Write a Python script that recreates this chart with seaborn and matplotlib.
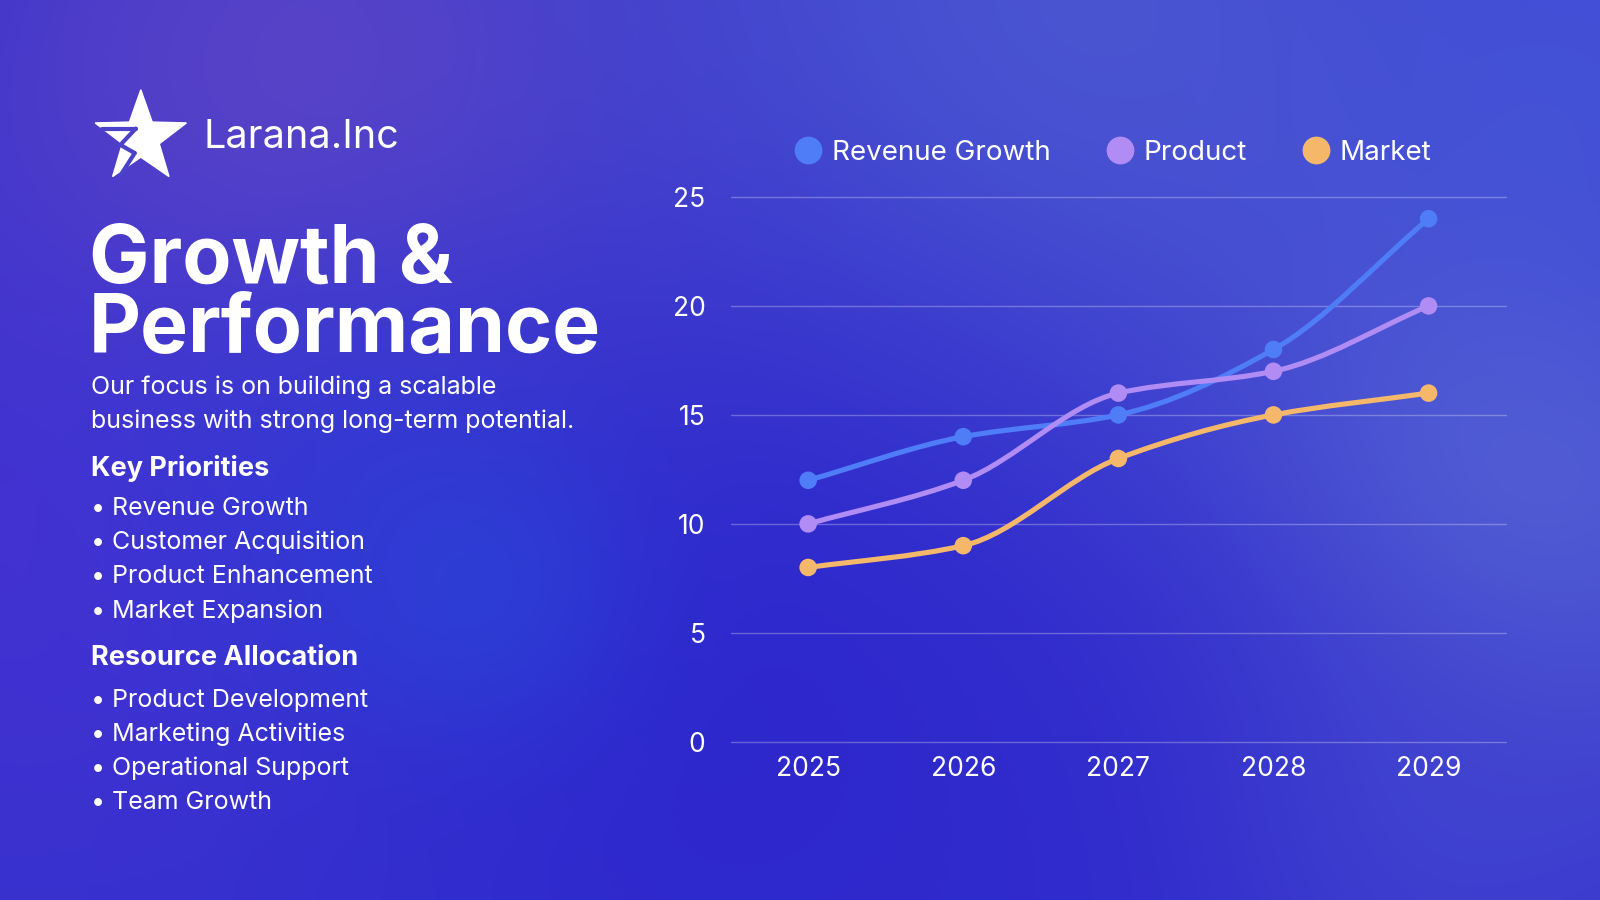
import matplotlib
matplotlib.use("Agg")
import matplotlib.pyplot as plt
import seaborn as sns
import numpy as np
import pandas as pd
from matplotlib.path import Path
from matplotlib.patches import PathPatch, Polygon
from matplotlib.lines import Line2D

# Chart data
years = ['2025', '2026', '2027', '2028', '2029']
revenue_growth = [12, 14, 15, 18, 24]
product = [10, 12, 16, 17, 20]
market = [8, 9, 13, 15, 16]
series_names = ['Revenue Growth', 'Product', 'Market']
series_colors = ['#4f7cf7', '#b08cf4', '#f5b86a']
y_ticks = [0, 5, 10, 15, 20, 25]

key_priorities = ['Revenue Growth', 'Customer Acquisition', 'Product Enhancement', 'Market Expansion']
resources = ['Product Development', 'Marketing Activities', 'Operational Support', 'Team Growth']

df = pd.DataFrame({'Year': years * 3,
                   'Value': revenue_growth + product + market,
                   'Series': sum([[s] * len(years) for s in series_names], [])})
df['pos'] = df['Year'].map({y: i for i, y in enumerate(years)})

sns.set_theme(style='white')
plt.rcParams['font.family'] = ['Inter', 'DejaVu Sans']

W, H = 1568, 882  # reference pixel space
def fx(px): return px / W
def fy(py): return 1 - py / H

fig = plt.figure(figsize=(16, 9), dpi=100)

# background gradient with soft blobs
bg = fig.add_axes([0, 0, 1, 1])
gx, gy = np.meshgrid(np.linspace(0, W, 400), np.linspace(0, H, 225))
img = np.zeros((225, 400, 3)) + np.array([0x36, 0x32, 0xce]) / 255
def blob(cx, cy, r, col, a):
    w = a * np.exp(-(((gx - cx) ** 2 + (gy - cy) ** 2) / (2 * r ** 2)))[..., None]
    return img * (1 - w) + np.array(col) / 255 * w
img = blob(300, 110, 250, (0x5c, 0x44, 0xc6), 0.95)
img = blob(1050, 30, 320, (0x4e, 0x5c, 0xd2), 0.85)
img = blob(1470, 480, 220, (0x58, 0x66, 0xd4), 0.9)
img = blob(1560, 80, 200, (0x45, 0x58, 0xda), 0.7)
img = blob(700, 700, 300, (0x2c, 0x26, 0xcc), 0.85)
img = blob(60, 560, 200, (0x4a, 0x30, 0xd4), 0.6)
img = blob(330, 480, 170, (0x2e, 0x3a, 0xd6), 0.55)
img = blob(470, 580, 100, (0x2a, 0x46, 0xd8), 0.6)
img = blob(1100, 870, 260, (0x2e, 0x28, 0xcc), 0.7)
img = blob(1400, 820, 160, (0x45, 0x4a, 0xd0), 0.5)
bg.imshow(img, extent=[0, W, H, 0], aspect='auto', interpolation='bicubic')
bg.set_xlim(0, W)
bg.set_ylim(H, 0)
bg.axis('off')

# logo star
cx, cy, R, r = 138, 135, 47, 19
ang = np.deg2rad(-90 + np.arange(10) * 36)
rad = np.where(np.arange(10) % 2 == 0, R, r)
star = np.column_stack([cx + rad * np.cos(ang), cy + rad * np.sin(ang)])
bg.add_patch(Polygon(star, closed=True, color='white', zorder=3))
bg.plot([100, 133], [126, 126], color='#4a42c8', lw=3, zorder=4)
bg.plot([133, 118, 132], [126, 142, 150], color='#4a42c8', lw=3, zorder=4)
bg.plot([132, 118], [150, 172], color='#4a42c8', lw=3, zorder=4)

white = 'white'
fig.text(fx(199), fy(135), 'Larana.Inc', color=white, fontsize=28.5, va='center', ha='left')

fig.text(fx(87), fy(277), 'Growth &', color=white, fontsize=58, fontweight='bold', va='baseline')
fig.text(fx(87), fy(345), 'Performance', color=white, fontsize=58, fontweight='bold', va='baseline')
fig.text(fx(89), fy(386), 'Our focus is on building a scalable', color=white, fontsize=18, va='baseline')
fig.text(fx(89), fy(419), 'business with strong long-term potential.', color=white, fontsize=18, va='baseline')

fig.text(fx(89), fy(466), 'Key Priorities', color=white, fontsize=19.5, fontweight='bold', va='baseline')
for i, t in enumerate(key_priorities):
    yy = 498 + i * 33.6
    fig.text(fx(89), fy(yy), '\u2022', color=white, fontsize=18, va='center')
    fig.text(fx(110), fy(yy), t, color=white, fontsize=18, va='center')

fig.text(fx(89), fy(652), 'Resource Allocation', color=white, fontsize=19.5, fontweight='bold', va='baseline')
for i, t in enumerate(resources):
    yy = 686 + i * 33.6
    fig.text(fx(89), fy(yy), '\u2022', color=white, fontsize=18, va='center')
    fig.text(fx(110), fy(yy), t, color=white, fontsize=18, va='center')

# line chart
ax = fig.add_axes([fx(716), fy(727), fx(1476) - fx(716), fy(193) - fy(727)])
ax.patch.set_alpha(0)

def smooth_path(xs, ys):
    xs = np.asarray(xs, float); ys = np.asarray(ys, float)
    d = np.diff(ys) / np.diff(xs)
    m = np.zeros_like(ys)
    m[0], m[-1] = d[0], d[-1]
    for k in range(1, len(ys) - 1):
        m[k] = 0 if d[k - 1] * d[k] <= 0 else 2 / (1 / d[k - 1] + 1 / d[k])
    verts, codes = [(xs[0], ys[0])], [Path.MOVETO]
    for k in range(len(xs) - 1):
        h = xs[k + 1] - xs[k]
        verts += [(xs[k] + h / 3, ys[k] + m[k] * h / 3),
                  (xs[k + 1] - h / 3, ys[k + 1] - m[k + 1] * h / 3),
                  (xs[k + 1], ys[k + 1])]
        codes += [Path.CURVE4] * 3
    return Path(verts, codes)

for name, col in zip(series_names, series_colors):
    sub = df[df['Series'] == name]
    ax.add_patch(PathPatch(smooth_path(sub['pos'], sub['Value']), fill=False,
                           edgecolor=col, lw=3.7, capstyle='round', zorder=3))
sns.scatterplot(data=df, x='pos', y='Value', hue='Series', palette=series_colors,
                s=160, edgecolor='none', legend=False, ax=ax, zorder=4)

ax.set_xlim(-0.5, len(years) - 0.5)
ax.set_ylim(0, 25)
ax.set_xticks(range(len(years)))
ax.set_xticklabels(years)
ax.set_yticks(y_ticks)
ax.set_xlabel('')
ax.set_ylabel('')
ax.tick_params(axis='both', colors=white, labelsize=19, length=0)
ax.tick_params(axis='y', pad=18)
ax.tick_params(axis='x', pad=10)
for s in ax.spines.values():
    s.set_visible(False)
ax.grid(axis='y', color='white', alpha=0.28, lw=1)
ax.grid(axis='x', visible=False)
ax.set_axisbelow(True)
for gl in ax.get_ygridlines():
    gl.set_clip_on(False)

handles = [Line2D([], [], marker='o', ls='', markersize=20, color=c, markeredgewidth=0)
           for c in series_colors]
leg = ax.legend(handles, series_names, loc='center', bbox_to_anchor=(0.493, 1.081), ncol=3,
                frameon=False, fontsize=20, handletextpad=0.35, columnspacing=2.0,
                handlelength=1.0)
for t in leg.get_texts():
    t.set_color(white)

fig.savefig('out.png', dpi=100)
